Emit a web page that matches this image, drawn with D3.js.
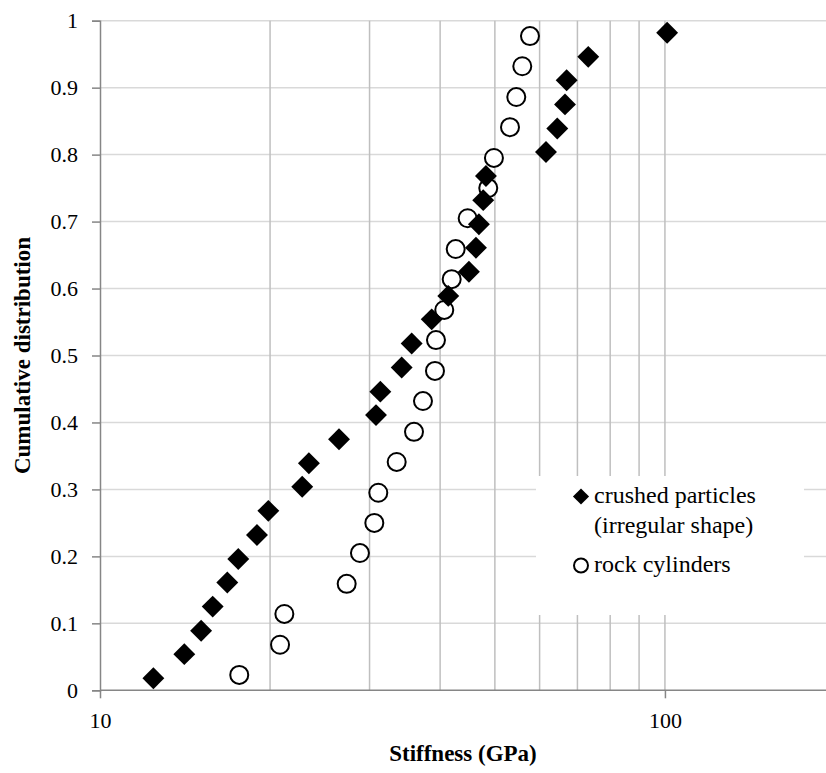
<!DOCTYPE html>
<html>
<head>
<meta charset="utf-8">
<script src="https://cdn.jsdelivr.net/npm/d3@7"></script>
<style>
  body { margin: 0; background: #fff; }
  text { font-family: "Liberation Serif", "Times New Roman", "DejaVu Serif", serif; fill: #000; }
</style>
</head>
<body>
<div id="chart"></div>
<script>
// Data
var crushedStiffness = [12.43, 14.10, 15.10, 15.83, 16.80, 17.57, 18.96, 19.86, 22.80, 23.43,
  26.49, 30.80, 31.35, 34.20, 35.62, 38.65, 41.35, 44.98, 46.29, 46.85,
  47.68, 48.21, 61.58, 64.48, 66.54, 66.99, 73.16, 100.9];
var crushedCdf = [0.018, 0.054, 0.089, 0.125, 0.161, 0.196, 0.232, 0.268, 0.304, 0.339,
  0.375, 0.411, 0.446, 0.482, 0.518, 0.554, 0.589, 0.625, 0.661, 0.696,
  0.732, 0.768, 0.804, 0.839, 0.875, 0.911, 0.946, 0.982];
var rockStiffness = [17.64, 20.83, 21.20, 27.33, 28.85, 30.59, 31.09, 33.51, 35.96, 37.30,
  39.17, 39.33, 40.68, 41.93, 42.62, 44.75, 48.67, 49.81, 53.18, 54.56,
  55.91, 57.69];
var rockCdf = [0.023, 0.068, 0.114, 0.159, 0.205, 0.250, 0.295, 0.341, 0.386, 0.432,
  0.477, 0.523, 0.568, 0.614, 0.659, 0.705, 0.750, 0.795, 0.841, 0.886,
  0.932, 0.977];
var yTicks = [0, 0.1, 0.2, 0.3, 0.4, 0.5, 0.6, 0.7, 0.8, 0.9, 1];
var xLabelTicks = [10, 100];
var xGridTicks = [20, 30, 40, 50, 60, 70, 80, 90, 100];
var legendLabels = [["crushed particles", "(irregular shape)"], ["rock cylinders"]];

var width = 826;
var height = 773;

var svg = d3.select("#chart")
  .append("svg")
  .attr("width", width)
  .attr("height", height);

// Scales
var x = d3.scaleLog().domain([10, 200]).range([100, 835]);
var y = d3.scaleLinear().domain([0, 1]).range([690.3, 20.7]);
var plotTop = y(1), plotBottom = y(0), plotLeft = x(10);

// Horizontal gridlines
svg.append("g")
  .selectAll("line")
  .data(yTicks.slice(1))
  .enter()
  .append("line")
  .attr("x1", plotLeft).attr("x2", width)
  .attr("y1", function(d) { return y(d); })
  .attr("y2", function(d) { return y(d); })
  .attr("stroke", "#d9d9d9")
  .attr("stroke-width", 1.5);

// Vertical gridlines
svg.append("g")
  .selectAll("line")
  .data(xGridTicks)
  .enter()
  .append("line")
  .attr("x1", function(d) { return x(d); })
  .attr("x2", function(d) { return x(d); })
  .attr("y1", plotTop).attr("y2", plotBottom)
  .attr("stroke", "#bfbfbf")
  .attr("stroke-width", 1.5);

// Y axis
var yAxis = svg.append("g")
  .attr("transform", "translate(" + plotLeft + ",0)")
  .call(d3.axisLeft(y).tickValues(yTicks).tickSize(8).tickPadding(14)
    .tickFormat(function(d) { return d3.format("")(+d.toFixed(1)); }));

// X axis
var xAxis = svg.append("g")
  .attr("transform", "translate(0," + plotBottom + ")")
  .call(d3.axisBottom(x).tickValues(xLabelTicks).tickSize(8).tickPadding(14)
    .tickFormat(d3.format("d")));

[yAxis, xAxis].forEach(function(ax) {
  ax.attr("font-family", null);
  ax.select(".domain").attr("stroke", "#868686").attr("stroke-width", 1.5);
  ax.selectAll(".tick line").attr("stroke", "#868686").attr("stroke-width", 1.5);
  ax.selectAll("text")
    .attr("font-size", 22)
    .attr("fill", "#000");
});
xAxis.select(".domain").attr("d", "M" + plotLeft + ",0H" + width);

// Rock cylinders (open circles)
svg.append("g")
  .selectAll("circle")
  .data(rockStiffness)
  .enter()
  .append("circle")
  .attr("cx", function(d) { return x(d); })
  .attr("cy", function(d, i) { return y(rockCdf[i]); })
  .attr("r", 9)
  .attr("fill", "#fff")
  .attr("stroke", "#000")
  .attr("stroke-width", 2);

// Crushed particles (diamonds)
var diamond = d3.symbol().type(d3.symbolSquare).size(240);
svg.append("g")
  .selectAll("path")
  .data(crushedStiffness)
  .enter()
  .append("path")
  .attr("d", diamond)
  .attr("transform", function(d, i) {
    return "translate(" + x(d) + "," + y(crushedCdf[i]) + ") rotate(45)";
  })
  .attr("fill", "#000");

// Legend
var legend = svg.append("g");
legend.append("rect")
  .attr("x", 536).attr("y", 476)
  .attr("width", 268).attr("height", 139)
  .attr("fill", "#fff");
legend.append("path")
  .attr("d", d3.symbol().type(d3.symbolSquare).size(130))
  .attr("transform", "translate(581,496.5) rotate(45)")
  .attr("fill", "#000");
legend.append("circle")
  .attr("cx", 581).attr("cy", 565.5).attr("r", 7)
  .attr("fill", "#fff").attr("stroke", "#000").attr("stroke-width", 2);
legend.append("text")
  .attr("x", 594).attr("y", 503)
  .attr("font-size", 24)
  .text(legendLabels[0][0]);
legend.append("text")
  .attr("x", 594).attr("y", 533)
  .attr("font-size", 24)
  .text(legendLabels[0][1]);
legend.append("text")
  .attr("x", 594).attr("y", 572)
  .attr("font-size", 24)
  .text(legendLabels[1][0]);

// Axis titles
svg.append("text")
  .attr("x", 463).attr("y", 761)
  .attr("text-anchor", "middle")
  .attr("font-size", 23)
  .attr("font-weight", "bold")
  .text("Stiffness (GPa)");

svg.append("text")
  .attr("transform", "translate(30," + ((plotTop + plotBottom) / 2) + ") rotate(-90)")
  .attr("text-anchor", "middle")
  .attr("font-size", 23)
  .attr("font-weight", "bold")
  .text("Cumulative distribution");
</script>
</body>
</html>
